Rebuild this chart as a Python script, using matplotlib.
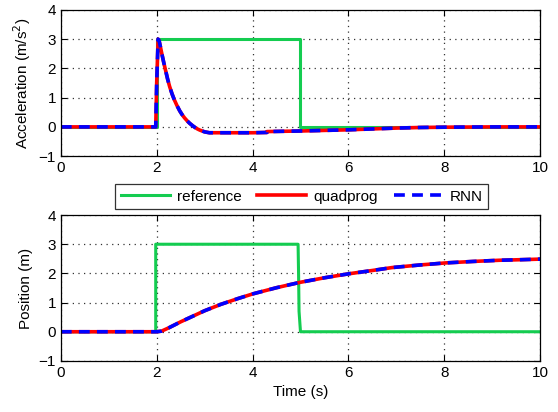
import numpy as np
import matplotlib
matplotlib.use("Agg")
import matplotlib.pyplot as plt

plt.rcParams['font.family'] = ['Liberation Sans', 'DejaVu Sans']

# reference signal (same shape on both plots)
t_ref = [0, 2.0, 2.0, 5.0, 5.0, 10]
y_ref = [0, 0, 3, 3, 0, 0]
t_ref_pos = [0, 1.98, 1.98, 4.95, 4.96, 4.97, 5.0, 10]
y_ref_pos = [0, 0, 3, 3, 2.0, 0.7, 0, 0]

# acceleration response (quadprog and RNN overlap)
t_acc = [0, 1.98, 2.0, 2.03, 2.05, 2.08, 2.11, 2.15, 2.19, 2.23, 2.27, 2.32, 2.37,
         2.42, 2.48, 2.53, 2.58, 2.64, 2.69, 2.75, 2.8, 2.85, 2.9, 2.95, 3.0, 3.1,
         3.5, 4.0, 4.3, 4.3, 5.0, 5.5, 6.0, 6.5, 7.0, 7.5, 8.0, 9.0, 10]
a_quad = [0, 0, 1.5, 3.0, 2.95, 2.72, 2.48, 2.18, 1.9, 1.62, 1.38, 1.13, 0.92,
          0.74, 0.55, 0.42, 0.31, 0.2, 0.12, 0.04, -0.02, -0.07, -0.11, -0.14,
          -0.17, -0.2, -0.2, -0.2, -0.19, -0.16, -0.14, -0.12, -0.1, -0.07,
          -0.04, -0.02, -0.01, 0.0, 0.0]
a_rnn = a_quad

# position response
t_pos = [0, 2.0, 2.1, 2.26, 2.5, 2.75, 3.0, 3.34, 3.7, 4.01, 4.5, 4.98, 5.5,
         6.02, 6.5, 6.91, 7.5, 8.03, 8.6, 9.14, 9.6, 10]
p_quad = [0, 0, 0.02, 0.14, 0.34, 0.53, 0.72, 0.94, 1.14, 1.3, 1.51, 1.69, 1.85,
          1.99, 2.1, 2.2, 2.29, 2.36, 2.41, 2.45, 2.47, 2.49]
p_rnn = p_quad

green = '#14CC50'

fig = plt.figure(figsize=(5.58, 4.12), dpi=100)
ax1 = fig.add_axes([0.109, 0.621, 0.859, 0.355])
ax2 = fig.add_axes([0.109, 0.124, 0.859, 0.354])

for ax in (ax1, ax2):
    ax.set_xlim(0, 10)
    ax.set_ylim(-1, 4)
    ax.set_xticks([0, 2, 4, 6, 8, 10])
    ax.set_yticks([-1, 0, 1, 2, 3, 4])
    ax.grid(True, color='#333333', linestyle=(0, (1, 3.5)), linewidth=0.9)
    ax.tick_params(direction='in', top=True, right=True, labelsize=11, length=4)
    for s in ax.spines.values():
        s.set_linewidth(0.9)

ax1.plot(t_ref, y_ref, color=green, lw=2.2, label='reference')
ax1.plot(t_acc, a_quad, color='red', lw=2.6, label='quadprog')
ax1.plot(t_acc, a_rnn, color='blue', lw=2.6, ls=(0, (3, 2)), label='RNN')
ax1.set_ylabel('Acceleration (m/s$^2$)', fontsize=11)

ax2.plot(t_ref_pos, y_ref_pos, color=green, lw=2.2)
ax2.plot(t_pos, p_quad, color='red', lw=2.6)
ax2.plot(t_pos, p_rnn, color='blue', lw=2.6, ls=(0, (3, 2)))
ax2.set_ylabel('Position (m)', fontsize=11)
ax2.set_xlabel('Time (s)', fontsize=11)

h, l = ax1.get_legend_handles_labels()
leg = fig.legend(h, l, loc='center', bbox_to_anchor=(0.541, 0.523), ncol=3,
                 fontsize=11, frameon=True, fancybox=False, edgecolor='black',
                 handlelength=3.2, columnspacing=1.0, borderpad=0.35,
                 handletextpad=0.5)
leg.get_frame().set_linewidth(0.9)

fig.savefig('out.png', dpi=100)
